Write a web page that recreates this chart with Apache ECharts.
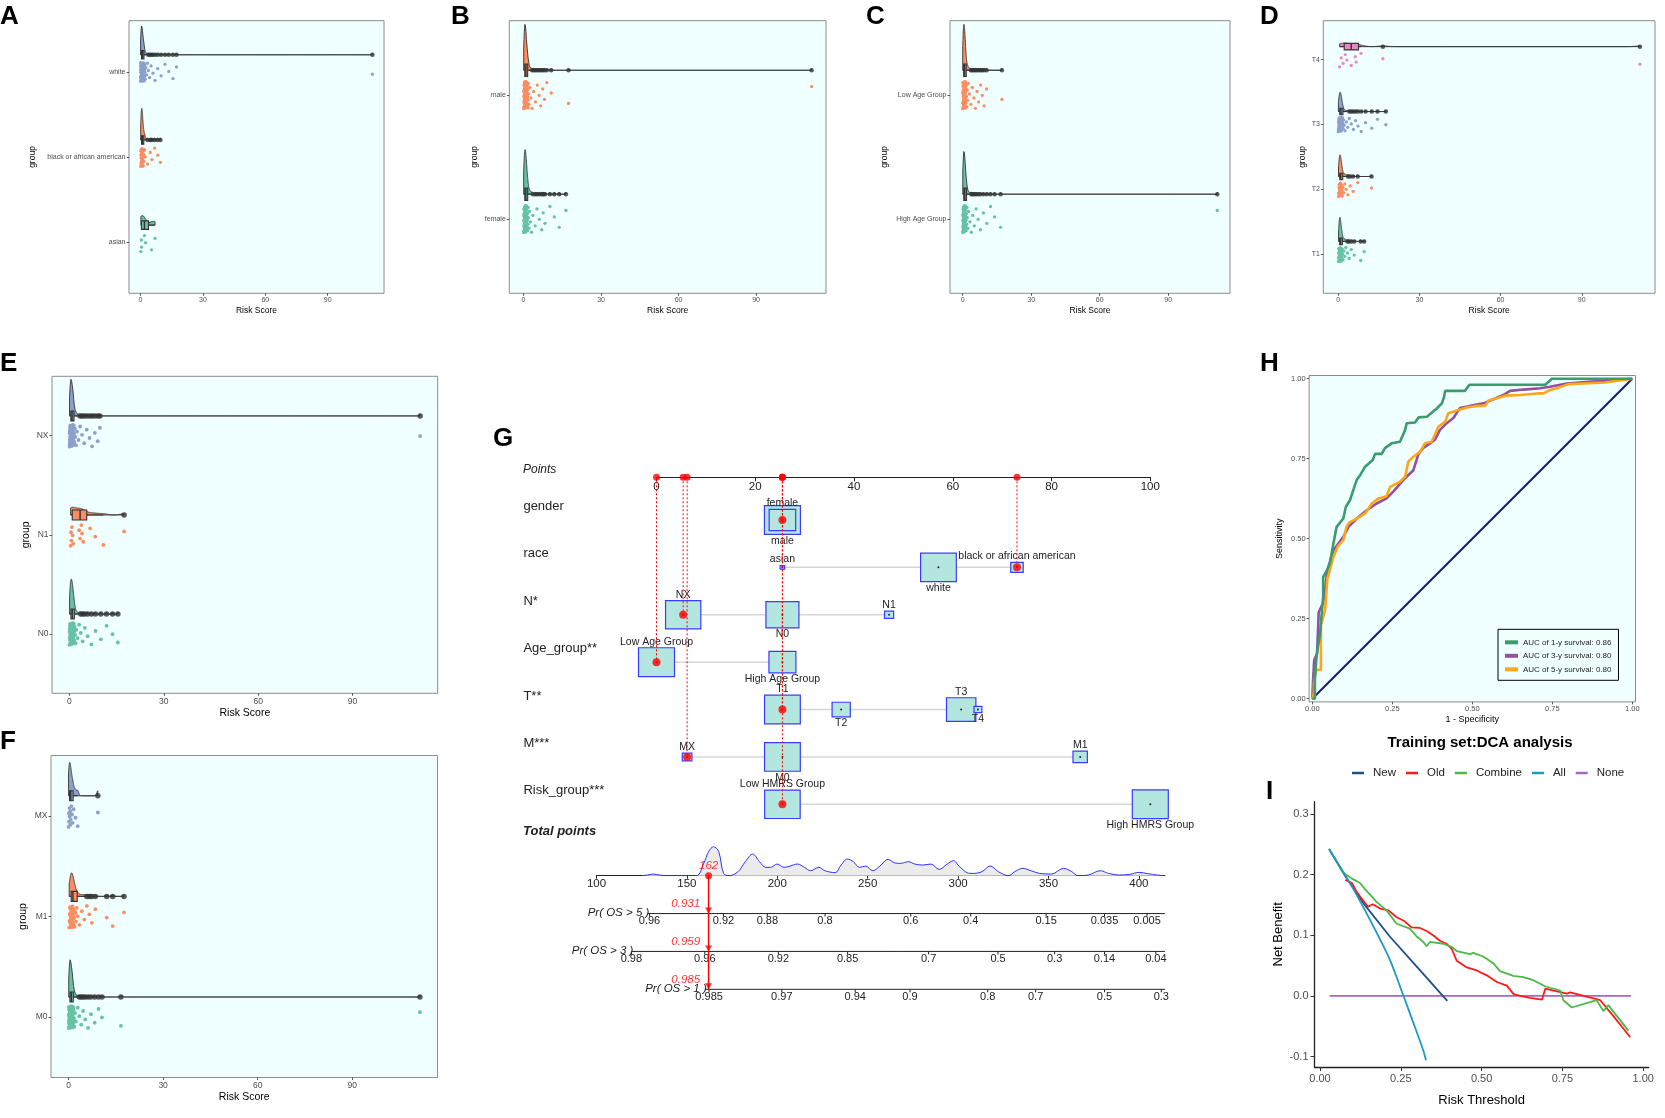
<!DOCTYPE html>
<html><head><meta charset="utf-8">
<script src="https://cdn.jsdelivr.net/npm/echarts@6/dist/echarts.min.js"></script>
<style>html,body{margin:0;padding:0;background:#fff}#c{width:1665px;height:1118px}</style>
</head><body><div id="c"></div>
<script>
// ---------------- DATA ----------------
const riskTicks = [0, 30, 60, 90];
// A: race
const raceLevels = ['asian', 'black or african american', 'white'];
const raceAsian = [0.2, 0.4, 0.5, 1.9, 2.4, 5.3, 7.0];
const raceBlack = [0.1, 0.2, 0.3, 0.4, 0.4, 0.5, 0.6, 0.7, 0.7, 0.8, 0.9, 1.0, 1.1, 1.3, 1.4, 1.6, 1.9, 2.3, 3.4, 4.7, 5.5, 6.8, 8.3, 9.6, 0.15, 0.35, 0.55, 0.62, 0.85, 0.95, 1.2, 0.27, 0.48, 0.76, 1.05, 1.5, 0.66, 2.0];
const raceWhite = [0.05,0.1,0.12,0.2,0.22,0.3,0.31,0.35,0.4,0.42,0.5,0.52,0.55,0.6,0.63,0.7,0.71,0.75,0.8,0.84,0.9,0.93,1.0,1.04,1.1,1.15,1.2,1.27,1.3,1.38,1.45,1.5,1.6,1.66,1.75,1.8,1.9,2.0,2.15,2.3,2.6,2.9,3.3,3.8,4.4,5.1,6.0,7.0,8.3,9.9,11.8,13.6,15.6,17.3,111.5,
  0.08,0.18,0.26,0.33,0.37,0.44,0.47,0.58,0.66,0.68,0.77,0.82,0.87,0.96,1.02,1.08,1.13,1.24,1.33,1.42,1.55,1.63,1.72,0.15,0.28,0.53,0.61,0.73,0.91,1.18,0.46,0.39,0.24,0.57,0.88];
// B: gender
const genderLevels = ['female', 'male'];
const genderFemale = [0.05,0.1,0.15,0.2,0.25,0.3,0.32,0.4,0.45,0.5,0.52,0.6,0.65,0.7,0.72,0.8,0.85,0.9,0.95,1.0,1.05,1.1,1.2,1.25,1.3,1.4,1.5,1.55,1.7,1.8,1.9,2.1,2.3,2.6,3.1,3.6,4.5,5.2,6.1,7.0,7.6,8.3,10.2,11.9,13.8,16.4,
  0.07,0.12,0.22,0.28,0.36,0.42,0.48,0.56,0.63,0.68,0.77,0.83,0.92,0.98,1.08,1.15,1.33,1.45,1.62,0.34,0.58,0.74,0.88,1.02,1.22,0.18,0.46,0.67];
const genderMale = [0.05,0.08,0.15,0.18,0.25,0.3,0.35,0.38,0.42,0.5,0.55,0.58,0.62,0.7,0.75,0.78,0.85,0.9,0.95,1.0,1.08,1.12,1.2,1.3,1.35,1.45,1.5,1.6,1.7,1.85,1.95,2.1,2.4,2.8,3.3,3.9,4.6,5.3,6.0,6.6,7.4,8.1,9.0,10.7,17.4,111.5,
  0.1,0.12,0.21,0.27,0.33,0.4,0.45,0.47,0.52,0.6,0.66,0.68,0.73,0.81,0.88,0.93,0.97,1.04,1.16,1.24,1.4,1.55,1.78,0.23,0.44,0.64,0.71,0.86,1.02,1.28,0.37,0.57];
// C: age group
const ageLevels = ['High Age Group', 'Low Age Group'];
const ageHigh = [0.06,0.1,0.16,0.2,0.27,0.3,0.36,0.4,0.44,0.5,0.56,0.6,0.64,0.7,0.76,0.8,0.86,0.9,0.97,1.0,1.06,1.15,1.2,1.3,1.38,1.45,1.55,1.65,1.75,1.9,2.05,2.3,2.6,3.2,3.8,4.4,5.1,5.9,6.8,7.8,9.1,10.6,12.2,14.0,16.6,111.5,
  0.08,0.13,0.23,0.33,0.38,0.47,0.53,0.58,0.67,0.73,0.83,0.88,0.94,1.03,1.11,1.25,1.34,1.5,1.7,0.25,0.42,0.62,0.78,0.99,1.18,0.55,0.35];
const ageLow = [0.04,0.1,0.14,0.22,0.26,0.33,0.38,0.43,0.48,0.53,0.6,0.66,0.71,0.77,0.82,0.88,0.94,1.0,1.07,1.13,1.22,1.28,1.36,1.46,1.58,1.7,1.84,2.0,2.2,2.5,3.0,3.6,4.2,4.9,5.6,6.3,7.0,7.9,8.6,9.4,10.5,17.2,
  0.07,0.12,0.18,0.24,0.3,0.36,0.41,0.45,0.51,0.57,0.63,0.69,0.74,0.8,0.85,0.91,0.97,1.04,1.1,1.19,1.32,1.52,0.28,0.47,0.66,0.84,1.16,0.55];
// D: T stage
const tLevels = ['T1', 'T2', 'T3', 'T4'];
const stageT1 = [0.1,0.2,0.3,0.35,0.4,0.5,0.55,0.6,0.7,0.75,0.8,0.9,1.0,1.1,1.2,1.3,1.45,1.6,1.8,2.1,2.4,2.8,3.4,4.0,4.8,5.9,8.3,9.6,
  0.15,0.25,0.38,0.45,0.52,0.63,0.67,0.72,0.84,0.95,1.05,1.15,1.38,0.58,0.78];
const stageT2 = [0.1,0.25,0.3,0.4,0.5,0.6,0.65,0.75,0.85,0.95,1.05,1.2,1.35,1.5,1.7,2.0,2.4,2.9,3.6,4.4,5.5,7.2,12.3,
  0.18,0.35,0.45,0.55,0.7,0.8,0.9,1.0,1.12,1.28,0.62];
const stageT3 = [0.05,0.12,0.2,0.26,0.3,0.38,0.45,0.5,0.56,0.62,0.7,0.76,0.82,0.9,0.96,1.03,1.1,1.18,1.26,1.35,1.44,1.55,1.68,1.8,1.95,2.15,2.5,3.0,3.5,4.1,4.8,5.6,6.4,7.3,8.5,10.1,12.4,14.5,17.6,
  0.08,0.16,0.23,0.34,0.41,0.48,0.53,0.59,0.66,0.73,0.79,0.86,0.93,1.0,1.07,1.14,1.22,1.31,1.49,1.62,0.44,0.69,0.88,1.12];
const stageT4 = [0.5,1.1,1.8,2.6,3.2,4.8,6.3,6.6,8.4,16.5,111.5];
// E: N stage
const nLevels = ['N0', 'N1', 'NX'];
const stageN0 = [0.05,0.1,0.17,0.22,0.28,0.33,0.4,0.45,0.5,0.55,0.62,0.68,0.73,0.8,0.86,0.92,0.98,1.05,1.12,1.2,1.28,1.36,1.45,1.55,1.66,1.8,1.95,2.2,2.6,3.1,3.6,4.2,4.9,5.8,7.0,8.3,10.0,11.8,13.7,15.4,
  0.08,0.13,0.2,0.25,0.31,0.37,0.43,0.48,0.53,0.59,0.65,0.71,0.77,0.83,0.89,0.95,1.01,1.09,1.16,1.24,1.4,1.6,0.35,0.57,0.79,1.03,1.32,0.66];
const stageN1 = [0.4,0.5,0.6,0.8,1.0,1.2,3.1,3.4,3.8,4.0,4.4,6.6,8.2,10.8,17.4];
const stageNX = [0.04,0.1,0.15,0.21,0.27,0.32,0.37,0.43,0.48,0.54,0.6,0.66,0.72,0.78,0.85,0.91,0.97,1.04,1.11,1.19,1.27,1.37,1.48,1.6,1.75,1.9,2.1,2.4,2.9,3.4,4.0,4.7,5.5,6.4,7.2,8.1,9.0,9.7,111.5,
  0.07,0.12,0.18,0.24,0.3,0.35,0.4,0.46,0.51,0.57,0.63,0.69,0.75,0.81,0.88,0.94,1.0,1.07,1.15,1.23,1.32,1.43,0.26,0.53,0.77,1.09,0.45,0.65];
// F: M stage
const mLevels = ['M0', 'M1', 'MX'];
const stageM0 = [0.05,0.1,0.16,0.21,0.26,0.31,0.36,0.42,0.47,0.52,0.58,0.63,0.69,0.75,0.81,0.87,0.93,0.99,1.06,1.13,1.21,1.29,1.38,1.48,1.6,1.73,1.88,2.05,2.3,2.9,3.4,4.0,4.6,5.3,6.2,7.1,8.3,9.5,10.6,16.6,111.5,
  0.08,0.13,0.19,0.24,0.29,0.34,0.39,0.44,0.5,0.55,0.61,0.66,0.72,0.78,0.84,0.9,0.96,1.02,1.1,1.17,1.25,1.34,1.52,0.27,0.48,0.7,0.92,1.19,0.57,0.38];
const stageM1 = [0.2,0.35,0.5,0.6,0.75,0.85,0.95,1.05,1.15,1.3,1.45,1.6,1.75,1.9,2.1,2.35,2.6,2.9,3.4,4.2,5.0,5.8,6.6,7.4,8.5,12.1,14.0,17.6,
  0.28,0.42,0.55,0.68,0.8,0.9,1.0,1.1,1.22,1.38,1.52,1.68,2.0,0.64,1.25];
const stageMX = [0.0,0.1,0.15,0.3,0.35,0.5,0.55,0.7,0.9,1.1,1.3,1.6,2.2,2.9,9.3];

// G: nomogram
const nomoVars = ['gender', 'race', 'N*', 'Age_group**', 'T**', 'M***', 'Risk_group***'];
const nomoLevels = [['female','male'], ['asian','white','black or african american'], ['NX','N0','N1'], ['Low Age Group','High Age Group'], ['T1','T2','T3','T4'], ['MX','M0','M1'], ['Low HMRS Group','High HMRS Group']];
const nomoPoints = [[25.5,25.5], [25.5,57.1,73.0], [5.4,25.5,47.1], [0,25.5], [25.5,37.4,61.7,65.1], [6.2,25.5,85.8], [25.5,100]];
const nomoCounts = [[136,250], [4,246,30], [240,210,16], [250,140], [247,64,167,12], [18,247,40], [243,250]];
const pointsTicks = [0, 20, 40, 60, 80, 100];
const patientLevels = ['female', 'black or african american', 'NX', 'Low Age Group', 'T1', 'MX', 'Low HMRS Group'];
const patientTotal = 162;
const totalTicks = [100, 150, 200, 250, 300, 350, 400];
const totalRange = [100, 414.4];
const totalDensity = [[125,0],[128.1,2],[131.5,5],[134.9,2],[139.4,0],[155.2,0],[159.3,37],[162,72],[164.7,87],[167.6,72],[170.3,7],[173.3,0],[178.3,12],[182.3,42],[186.4,65],[190.2,42],[193.6,25],[196.3,25],[199.9,35],[203.8,25],[207.1,29],[211.2,35],[215,25],[218.4,15],[223,25],[226.3,15],[232,9],[235.3,32],[238.7,50],[242.1,42],[245.5,25],[248.9,29],[252.8,15],[256.8,29],[261.3,49],[264.7,39],[268.1,37],[272.6,42],[276,35],[280.5,32],[285,35],[289.5,19],[294,35],[297.5,45],[300.8,27],[306.5,7],[308.7,7],[313.2,12],[317.8,29],[322.3,12],[327.9,0],[331.3,12],[335.8,22],[340.3,15],[344.9,7],[351.6,5],[358.4,22],[362.9,12],[366.3,0],[372,2],[378.7,15],[383.2,7],[389.5,2],[395,4],[400,10],[405,6],[410,2],[414,0]];
const prNames = ['Pr( OS > 5 )', 'Pr( OS > 3 )', 'Pr( OS > 1 )'];
const prStarts = [128.1, 119.3, 159.9];
const prEnd = 414.4;
const prTickLabels = [['0.96','0.92','0.88','0.8','0.6','0.4','0.15','0.035','0.005'], ['0.98','0.96','0.92','0.85','0.7','0.5','0.3','0.14','0.04'], ['0.985','0.97','0.94','0.9','0.8','0.7','0.5','0.3']];
const prTickPoints = [[129.3,170.2,194.5,226.4,273.8,307,348.7,381,404.5], [119.3,159.9,200.6,238.9,283.7,322.1,353.4,381,409.4], [162.3,202.5,243.1,273.4,316.4,342.9,381,412.4]];
const patientProbs = ['0.931', '0.959', '0.985'];

// H: ROC
const rocTicks = [0, 0.25, 0.5, 0.75, 1];
const rocNames = ['AUC of 1-y survival: 0.86', 'AUC of 3-y survival: 0.80', 'AUC of 5-y survival: 0.80'];
const roc1y = [[0,0],[0.008,0],[0.008,0.06],[0.014,0.06],[0.014,0.14],[0.02,0.14],[0.024,0.2],[0.028,0.25],[0.034,0.32],[0.034,0.38],[0.045,0.4],[0.055,0.423],[0.066,0.485],[0.076,0.537],[0.097,0.563],[0.105,0.6],[0.118,0.621],[0.128,0.652],[0.139,0.684],[0.151,0.701],[0.165,0.725],[0.189,0.746],[0.196,0.765],[0.217,0.765],[0.227,0.783],[0.248,0.798],[0.274,0.803],[0.29,0.84],[0.295,0.861],[0.321,0.863],[0.332,0.879],[0.358,0.881],[0.389,0.907],[0.405,0.923],[0.412,0.944],[0.415,0.962],[0.477,0.962],[0.491,0.981],[0.728,0.981],[0.749,1.0],[1,1]];
const roc3y = [[0,0],[0.002,0.05],[0.006,0.121],[0.015,0.14],[0.02,0.27],[0.034,0.3],[0.047,0.4],[0.066,0.464],[0.097,0.506],[0.113,0.537],[0.139,0.563],[0.17,0.589],[0.201,0.61],[0.232,0.626],[0.253,0.647],[0.284,0.683],[0.316,0.714],[0.331,0.763],[0.347,0.784],[0.368,0.798],[0.383,0.809],[0.399,0.84],[0.42,0.861],[0.441,0.877],[0.461,0.908],[0.493,0.915],[0.535,0.923],[0.566,0.936],[0.597,0.949],[0.618,0.962],[0.66,0.966],[0.712,0.97],[0.743,0.975],[0.795,0.985],[0.863,0.99],[1,1]];
const roc5y = [[0,0],[0.005,0.02],[0.005,0.048],[0.012,0.09],[0.027,0.09],[0.027,0.23],[0.04,0.277],[0.047,0.376],[0.055,0.402],[0.066,0.443],[0.079,0.475],[0.097,0.496],[0.107,0.537],[0.115,0.55],[0.139,0.563],[0.165,0.579],[0.186,0.61],[0.207,0.626],[0.232,0.633],[0.243,0.662],[0.274,0.678],[0.29,0.694],[0.3,0.741],[0.316,0.756],[0.337,0.772],[0.352,0.798],[0.373,0.803],[0.394,0.85],[0.415,0.865],[0.425,0.892],[0.441,0.897],[0.457,0.902],[0.483,0.91],[0.514,0.915],[0.54,0.915],[0.55,0.931],[0.576,0.939],[0.603,0.947],[0.65,0.949],[0.702,0.954],[0.723,0.954],[0.743,0.965],[0.764,0.97],[0.8,0.983],[0.847,0.985],[0.915,0.988],[1,1]];
const rocDiagonal = [[0,0],[1,1]];

// I: DCA
const dcaXTicks = [0, 0.25, 0.5, 0.75, 1];
const dcaYTicks = [-0.1, 0, 0.1, 0.2, 0.3];
const dcaNames = ['New', 'Old', 'Combine', 'All', 'None'];
const dcaNew = [[0.028,0.242],[0.08,0.196],[0.134,0.153],[0.216,0.098],[0.298,0.049],[0.38,0.0],[0.394,-0.008]];
const dcaOld = [[0.078,0.191],[0.099,0.186],[0.113,0.172],[0.128,0.161],[0.149,0.147],[0.163,0.151],[0.186,0.144],[0.212,0.141],[0.236,0.13],[0.262,0.123],[0.283,0.113],[0.309,0.112],[0.33,0.107],[0.35,0.1],[0.371,0.091],[0.392,0.086],[0.408,0.077],[0.423,0.058],[0.454,0.047],[0.485,0.042],[0.516,0.034],[0.547,0.023],[0.578,0.017],[0.599,0.003],[0.619,0.0],[0.65,-0.003],[0.687,-0.006],[0.697,0.012],[0.723,0.009],[0.764,0.004],[0.774,0.006],[0.816,0.0],[0.867,-0.007],[0.909,-0.034],[0.96,-0.068]];
const dcaCombine = [[0.06,0.212],[0.072,0.203],[0.103,0.192],[0.124,0.186],[0.139,0.176],[0.165,0.161],[0.175,0.155],[0.206,0.141],[0.237,0.119],[0.278,0.111],[0.299,0.098],[0.32,0.089],[0.33,0.082],[0.34,0.089],[0.381,0.086],[0.407,0.081],[0.423,0.074],[0.464,0.069],[0.474,0.071],[0.505,0.065],[0.536,0.054],[0.557,0.041],[0.598,0.033],[0.629,0.031],[0.66,0.026],[0.696,0.016],[0.743,0.009],[0.753,-0.007],[0.779,-0.019],[0.856,-0.007],[0.877,-0.025],[0.892,-0.015],[0.954,-0.057]];
const dcaAll = [[0.028,0.242],[0.072,0.204],[0.113,0.167],[0.164,0.116],[0.216,0.06],[0.257,0.002],[0.288,-0.043],[0.319,-0.089],[0.328,-0.106]];
const dcaNone = [[0.03,0],[0.962,0]];

// ---------------- BUILD ----------------
const FONT = '"Liberation Sans", Arial, Helvetica, sans-serif';
const SET2 = ['#66C2A5', '#FC8D62', '#8DA0CB', '#E78AC3'];
const grids = [], xAxes = [], yAxes = [], series = [], titles = [], legends = [];

function quant(s, p) { const h = (s.length - 1) * p, lo = Math.floor(h), hi = Math.ceil(h); return s[lo] + (s[hi] - s[lo]) * (h - lo); }
function kde(vals, adjust) {
  const s = [...vals].sort((a, b) => a - b), n = s.length;
  const mean = s.reduce((a, b) => a + b, 0) / n;
  const sd = Math.sqrt(s.reduce((a, b) => a + (b - mean) * (b - mean), 0) / (n - 1));
  const iqr = quant(s, 0.75) - quant(s, 0.25);
  let lo = Math.min(sd, iqr / 1.34); if (!(lo > 0)) lo = sd || 1;
  const bw = adjust * 0.9 * lo * Math.pow(n, -0.2);
  const N = 512, a = s[0], b = s[n - 1], out = [];
  for (let k = 0; k < N; k++) {
    const x = a + (b - a) * k / (N - 1); let d = 0;
    for (const v of s) { const z = (x - v) / bw; d += Math.exp(-0.5 * z * z); }
    out.push([x, d / (n * bw * Math.sqrt(2 * Math.PI))]);
  }
  return out;
}
function boxStats(vals) {
  const s = [...vals].sort((a, b) => a - b);
  const q1 = quant(s, 0.25), med = quant(s, 0.5), q3 = quant(s, 0.75), iqr = q3 - q1;
  const inl = s.filter(v => v >= q1 - 1.5 * iqr && v <= q3 + 1.5 * iqr);
  return { q1, med, q3, lw: inl[0], uw: inl[inl.length - 1], out: s.filter(v => v < q1 - 1.5 * iqr || v > q3 + 1.5 * iqr) };
}

function rainPanel(cfg) {
  const gi = grids.length, n = cfg.cats.length;
  const all = [].concat(...cfg.groups);
  const dmin = Math.min(...all), dmax = Math.max(...all), pad = (dmax - dmin) * 0.05;
  const catVals = cfg.cats.map((_, i) => i + 1);
  grids.push({ left: cfg.l, top: cfg.t, width: cfg.r - cfg.l, height: cfg.b - cfg.t, show: true, backgroundColor: '#F0FFFF', borderColor: '#8c8c8c', borderWidth: 1 });
  xAxes.push({ gridIndex: gi, type: 'value', min: dmin - pad, max: dmax + pad, splitLine: { show: false },
    axisLine: { show: false, onZero: false },
    axisTick: { show: true, customValues: riskTicks, length: 2.5, lineStyle: { color: '#333', width: 0.8 } },
    axisLabel: { customValues: riskTicks, fontSize: cfg.tf, color: '#4d4d4d', margin: 3.5 },
    name: 'Risk Score', nameLocation: 'middle', nameGap: cfg.xg, nameTextStyle: { fontSize: cfg.nf, color: '#000' } });
  yAxes.push({ gridIndex: gi, type: 'value', min: 0.4, max: n + 0.6, splitLine: { show: false },
    axisLine: { show: false, onZero: false },
    axisTick: { show: true, customValues: catVals, length: 2.5, lineStyle: { color: '#333', width: 0.8 } },
    axisLabel: { customValues: catVals, formatter: v => cfg.cats[Math.round(v) - 1], fontSize: cfg.tf, color: '#4d4d4d', margin: 3.5 },
    name: 'group', nameLocation: 'middle', nameGap: cfg.yg, nameTextStyle: { fontSize: cfg.nf, color: '#000' } });
  const dens = cfg.groups.map(g => kde(g, 0.75));
  const maxD = Math.max(...dens.map(d => Math.max(...d.map(p => p[1]))));
  const stats = cfg.groups.map(boxStats);
  series.push({ type: 'custom', xAxisIndex: gi, yAxisIndex: gi, z: 2, silent: true, clip: false,
    data: cfg.groups.map((_, i) => [0, i + 1]),
    renderItem: (p, api) => {
      const i = p.dataIndex, v = dens[i], base = i + 1.2;
      const pts = v.map(([x, d]) => api.coord([x, base + d / maxD * 0.37]));
      pts.push(api.coord([v[v.length - 1][0], base])); pts.push(api.coord([v[0][0], base]));
      return { type: 'polygon', shape: { points: pts }, style: { fill: SET2[i], stroke: '#333', lineWidth: 0.9 } };
    } });
  cfg.groups.forEach((g, i) => {
    series.push({ type: 'scatter', xAxisIndex: gi, yAxisIndex: gi, z: 3, silent: true, symbolSize: cfg.ps,
      itemStyle: { color: SET2[i], opacity: 1 },
      data: g.map((v, k) => [v, i + 1 + (((k * 0.6180339887) % 1) - 0.5) * 0.22]) });
  });
  series.push({ type: 'custom', xAxisIndex: gi, yAxisIndex: gi, z: 4, silent: true, clip: false,
    data: cfg.groups.map((_, i) => [0, i + 1]),
    renderItem: (p, api) => {
      const i = p.dataIndex, st = stats[i], y = i + 1.2, hw = 0.05;
      const [x1, yT] = api.coord([st.q1, y + hw]), [x3, yB] = api.coord([st.q3, y - hw]);
      const [xm] = api.coord([st.med, y]), [xl, yc] = api.coord([st.lw, y]), [xu] = api.coord([st.uw, y]);
      return { type: 'group', children: [
        { type: 'line', shape: { x1: xl, y1: yc, x2: x1, y2: yc }, style: { stroke: '#333', lineWidth: 1 } },
        { type: 'line', shape: { x1: x3, y1: yc, x2: xu, y2: yc }, style: { stroke: '#333', lineWidth: 1 } },
        { type: 'rect', shape: { x: x1, y: yT, width: Math.max(x3 - x1, 1), height: yB - yT }, style: { fill: SET2[i], stroke: '#333', lineWidth: 1.1 } },
        { type: 'line', shape: { x1: xm, y1: yT, x2: xm, y2: yB }, style: { stroke: '#333', lineWidth: 1.4 } }] };
    } });
  const outs = [];
  stats.forEach((st, i) => st.out.forEach(v => outs.push([v, i + 1.2])));
  series.push({ type: 'scatter', xAxisIndex: gi, yAxisIndex: gi, z: 5, silent: true, symbolSize: cfg.os, itemStyle: { color: '#333' }, data: outs });
}

const small = { tf: 7, nf: 8.5, xg: 12.5, ps: 3.3, os: 4.5 };
const big = { tf: 8.5, nf: 10.5, xg: 14, ps: 3.8, os: 5.5 };
rainPanel(Object.assign({ l: 129, t: 20.7, r: 384, b: 293.3, cats: raceLevels, groups: [raceAsian, raceBlack, raceWhite], yg: 91.7 }, small));
rainPanel(Object.assign({ l: 509.3, t: 20.7, r: 826, b: 293.3, cats: genderLevels, groups: [genderFemale, genderMale], yg: 30 }, small));
rainPanel(Object.assign({ l: 950, t: 20.7, r: 1230, b: 293.3, cats: ageLevels, groups: [ageHigh, ageLow], yg: 60.7 }, small));
rainPanel(Object.assign({ l: 1323.3, t: 20.7, r: 1655, b: 293.3, cats: tLevels, groups: [stageT1, stageT2, stageT3, stageT4], yg: 15.7 }, small));
rainPanel(Object.assign({ l: 52, t: 376.3, r: 437.7, b: 693.3, cats: nLevels, groups: [stageN0, stageN1, stageNX], yg: 20 }, big));
rainPanel(Object.assign({ l: 51, t: 755.5, r: 437.5, b: 1077.5, cats: mLevels, groups: [stageM0, stageM1, stageMX], yg: 22.5 }, big));

// ---------- G: nomogram upper part ----------
const AX_ROW = -0.9008;
const gPts = grids.length;
grids.push({ left: 656.5, top: 477.3, width: 493.8, height: 327, show: false });
xAxes.push({ gridIndex: gPts, type: 'value', min: 0, max: 100, position: 'top', splitLine: { show: false },
  axisLine: { show: true, onZero: false, lineStyle: { color: '#222', width: 1 } },
  axisTick: { show: true, inside: true, length: 4, customValues: pointsTicks, lineStyle: { color: '#222' } },
  axisLabel: { inside: true, margin: 4, fontSize: 11.5, color: '#222', customValues: pointsTicks } });
yAxes.push({ gridIndex: gPts, type: 'value', min: AX_ROW, max: 6, inverse: true, splitLine: { show: false },
  axisLine: { show: false, onZero: false }, axisTick: { show: false },
  axisLabel: { customValues: nomoVars.map((_, r) => r - 0.285), formatter: v => nomoVars[Math.round(v + 0.285)], align: 'left', margin: 133.1, fontSize: 13, color: '#222' } });
series.push({ type: 'custom', xAxisIndex: gPts, yAxisIndex: gPts, clip: false, silent: true, z: 2,
  data: nomoPoints.map((p, r) => [Math.min(...p), r, Math.max(...p)]),
  renderItem: (params, api) => {
    const a = api.coord([api.value(0), api.value(1)]), b = api.coord([api.value(2), api.value(1)]);
    return { type: 'line', shape: { x1: a[0], y1: a[1], x2: b[0], y2: b[1] }, style: { stroke: '#d6d6d6', lineWidth: 1.5 } };
  } });
const lvlItems = [];
nomoLevels.forEach((lv, r) => {
  const order = lv.map((_, j) => j).sort((a, b) => nomoPoints[r][a] - nomoPoints[r][b]);
  lv.forEach((name, j) => lvlItems.push({ value: [nomoPoints[r][j], r, nomoCounts[r][j], order.indexOf(j)], name }));
});
lvlItems.sort((a, b) => b.value[2] - a.value[2]);
series.push({ type: 'custom', xAxisIndex: gPts, yAxisIndex: gPts, clip: false, silent: true, z: 3,
  data: lvlItems,
  renderItem: (params, api) => {
    const c = api.coord([api.value(0), api.value(1)]), cnt = api.value(2), rk = api.value(3);
    const w = 2.277 * Math.sqrt(cnt), h = w * 0.8, above = rk % 2 === 0;
    return { type: 'group', children: [
      { type: 'rect', shape: { x: c[0] - w / 2, y: c[1] - h / 2, width: w, height: h }, style: { fill: '#b3e6de', stroke: '#3b3bff', lineWidth: 1.2 } },
      { type: 'circle', shape: { cx: c[0], cy: c[1], r: 1 }, style: { fill: '#222' } },
      { type: 'text', x: c[0], y: above ? c[1] - h / 2 - 0.5 : c[1] + h / 2 + 1, style: { text: lvlItems[params.dataIndex].name, fill: '#222', fontSize: 10.5, fontFamily: FONT, align: 'center', verticalAlign: above ? 'bottom' : 'top' } }] };
  } });
const patientPts = patientLevels.map((lv, r) => [nomoPoints[r][nomoLevels[r].indexOf(lv)], r]);
series.push({ type: 'custom', xAxisIndex: gPts, yAxisIndex: gPts, clip: false, silent: true, z: 4,
  data: patientPts,
  renderItem: (params, api) => {
    const a = api.coord([api.value(0), AX_ROW]), b = api.coord([api.value(0), api.value(1)]);
    return { type: 'line', shape: { x1: a[0], y1: a[1], x2: b[0], y2: b[1] }, style: { stroke: '#ff0000', lineWidth: 1, lineDash: [2, 2] } };
  } });
series.push({ type: 'scatter', xAxisIndex: gPts, yAxisIndex: gPts, clip: false, silent: true, z: 6, symbolSize: 8, itemStyle: { color: '#ff0000' }, data: patientPts });
series.push({ type: 'scatter', xAxisIndex: gPts, yAxisIndex: gPts, clip: false, silent: true, z: 6, symbolSize: 7, itemStyle: { color: '#ff0000' }, data: patientPts.map(p => [p[0], AX_ROW]) });

// ---------- G: total points ----------
const gTot = grids.length;
grids.push({ left: 596.5, top: 846.7, width: 568.4, height: 29, show: false });
xAxes.push({ gridIndex: gTot, type: 'value', min: totalRange[0], max: totalRange[1], splitLine: { show: false },
  axisLine: { show: true, onZero: false, lineStyle: { color: '#222', width: 1 } },
  axisTick: { show: true, length: 3, customValues: totalTicks, lineStyle: { color: '#222' } },
  axisLabel: { customValues: totalTicks, fontSize: 11.5, color: '#222', margin: 2 } });
yAxes.push({ gridIndex: gTot, type: 'value', min: 0, max: 87, show: false });
series.push({ type: 'line', xAxisIndex: gTot, yAxisIndex: gTot, smooth: 0.35, symbol: 'none', silent: true, z: 2,
  lineStyle: { color: '#3030ff', width: 1 }, areaStyle: { color: '#ebebeb', opacity: 1 }, data: totalDensity });

const gPr = grids.length;
grids.push({ left: 596.5, top: 875.7, width: 568.4, height: 113.6, show: false });
xAxes.push({ gridIndex: gPr, type: 'value', min: totalRange[0], max: totalRange[1], show: false });
yAxes.push({ gridIndex: gPr, type: 'value', min: 0, max: 3, inverse: true, show: false });
series.push({ type: 'custom', xAxisIndex: gPr, yAxisIndex: gPr, clip: false, silent: true, z: 2,
  data: prStarts.map((s, k) => [s, k + 1]),
  renderItem: (params, api) => {
    const k = params.dataIndex, row = k + 1;
    const a = api.coord([prStarts[k], row]), b = api.coord([prEnd, row]);
    const ch = [{ type: 'line', shape: { x1: a[0], y1: a[1], x2: b[0], y2: b[1] }, style: { stroke: '#222', lineWidth: 1 } },
      { type: 'text', x: a[0] + 2, y: a[1] - 1, style: { text: prNames[k], fontStyle: 'italic', fontSize: 11.5, fill: '#222', fontFamily: FONT, align: 'right', verticalAlign: 'middle' } }];
    prTickPoints[k].forEach((tp, j) => {
      const p = api.coord([tp, row]);
      ch.push({ type: 'line', shape: { x1: p[0], y1: p[1], x2: p[0], y2: p[1] + 3 }, style: { stroke: '#222', lineWidth: 1 } });
      ch.push({ type: 'text', x: p[0], y: p[1] + 2, style: { text: prTickLabels[k][j], fontSize: 11, fill: '#222', fontFamily: FONT, align: 'center', verticalAlign: 'top' } });
    });
    return { type: 'group', children: ch };
  } });
series.push({ type: 'line', xAxisIndex: gPr, yAxisIndex: gPr, symbol: 'none', silent: true, z: 5, clip: false,
  lineStyle: { color: '#ff0000', width: 1.5 }, data: [[patientTotal, 0], [patientTotal, 3]] });
series.push({ type: 'scatter', xAxisIndex: gPr, yAxisIndex: gPr, silent: true, z: 6, clip: false, symbol: 'triangle', symbolRotate: 180, symbolSize: [7, 6], symbolOffset: [0, -3],
  itemStyle: { color: '#ff0000' },
  label: { show: true, position: 'left', distance: 5, offset: [0, -7], formatter: p => patientProbs[p.dataIndex], color: '#ff0000', fontStyle: 'italic', fontSize: 11.5 },
  data: [[patientTotal, 1], [patientTotal, 2], [patientTotal, 3]] });
series.push({ type: 'scatter', xAxisIndex: gPr, yAxisIndex: gPr, silent: true, z: 6, clip: false, symbolSize: 7,
  itemStyle: { color: '#ff0000' },
  label: { show: true, position: 'top', distance: 0, formatter: String(patientTotal), color: '#ff0000', fontStyle: 'italic', fontSize: 11.5 },
  data: [[patientTotal, 0]] });

// ---------- H: ROC ----------
const gH = grids.length;
grids.push({ left: 1309.1, top: 375.5, width: 326.4, height: 326.4, show: true, backgroundColor: '#F0FFFF', borderColor: '#8c8c8c', borderWidth: 1 });
const rocAxis = (name, gap) => ({ gridIndex: gH, type: 'value', min: -0.01, max: 1.01, splitLine: { show: false },
  axisLine: { show: false, onZero: false },
  axisTick: { show: true, customValues: rocTicks, length: 2.5, lineStyle: { color: '#333', width: 0.8 } },
  axisLabel: { customValues: rocTicks, formatter: v => v.toFixed(2), fontSize: 7.5, color: '#4d4d4d', margin: 3.5 },
  name, nameLocation: 'middle', nameGap: gap, nameTextStyle: { fontSize: 9, color: '#000' } });
xAxes.push(rocAxis('1 - Specificity', 13.5));
yAxes.push(rocAxis('Sensitivity', 25));
series.push({ type: 'line', xAxisIndex: gH, yAxisIndex: gH, symbol: 'none', silent: true, z: 2, lineStyle: { color: '#1c1c6e', width: 2 }, data: rocDiagonal });
series.push({ type: 'line', name: rocNames[1], xAxisIndex: gH, yAxisIndex: gH, symbol: 'none', silent: true, z: 3, color: '#944fa0', lineStyle: { color: '#944fa0', width: 2.6 }, data: roc3y });
series.push({ type: 'line', name: rocNames[2], xAxisIndex: gH, yAxisIndex: gH, symbol: 'none', silent: true, z: 4, color: '#ffa516', lineStyle: { color: '#ffa516', width: 2.6 }, data: roc5y });
series.push({ type: 'line', name: rocNames[0], xAxisIndex: gH, yAxisIndex: gH, symbol: 'none', silent: true, z: 5, color: '#3a9b6c', lineStyle: { color: '#3a9b6c', width: 2.6 }, data: roc1y });
legends.push({ data: rocNames, left: 1498, top: 629.3, orient: 'vertical', borderColor: '#000', borderWidth: 1, padding: [9, 7, 7, 7], itemGap: 5.5, itemWidth: 13, itemHeight: 4, icon: 'rect', selectedMode: false, textStyle: { fontSize: 8, color: '#222' } });

// ---------- I: DCA ----------
const gI = grids.length;
grids.push({ left: 1314.5, top: 801.7, width: 334.2, height: 265.3, show: false });
xAxes.push({ gridIndex: gI, type: 'value', min: -0.017, max: 1.017, splitLine: { show: false },
  axisLine: { show: true, onZero: false, lineStyle: { color: '#222', width: 1.3 } },
  axisTick: { show: true, customValues: dcaXTicks, length: 4, lineStyle: { color: '#333' } },
  axisLabel: { customValues: dcaXTicks, formatter: v => v.toFixed(2), fontSize: 11, color: '#4d4d4d', margin: 6 },
  name: 'Risk Threshold', nameLocation: 'middle', nameGap: 27, nameTextStyle: { fontSize: 13, color: '#000' } });
yAxes.push({ gridIndex: gI, type: 'value', min: -0.117, max: 0.32, splitLine: { show: false },
  axisLine: { show: true, onZero: false, lineStyle: { color: '#222', width: 1.3 } },
  axisTick: { show: true, customValues: dcaYTicks, length: 4, lineStyle: { color: '#333' } },
  axisLabel: { customValues: dcaYTicks, formatter: v => v.toFixed(1), fontSize: 11, color: '#4d4d4d', margin: 6 },
  name: 'Net Benefit', nameLocation: 'middle', nameGap: 30, nameTextStyle: { fontSize: 13, color: '#000' } });
const dcaColors = ['#1f4e8c', '#ff1a1a', '#4db848', '#1a9cc0', '#a569bd'];
[dcaNew, dcaOld, dcaCombine, dcaAll, dcaNone].forEach((d, k) => {
  series.push({ type: 'line', name: dcaNames[k], xAxisIndex: gI, yAxisIndex: gI, symbol: 'none', silent: true, z: k === 4 ? 2 : 3,
    smooth: k === 3 ? 0.3 : false, color: dcaColors[k], lineStyle: { color: dcaColors[k], width: 1.8 }, data: d });
});
legends.push({ data: dcaNames, left: 1352, top: 767, orient: 'horizontal', padding: 0, itemGap: 10, itemWidth: 12, itemHeight: 2.5, icon: 'rect', selectedMode: false, textStyle: { fontSize: 11.5, color: '#222', padding: [0, 0, 0, 4] } });

// ---------- text labels ----------
const letter = (t, l, tp) => titles.push({ text: t, left: l, top: tp, padding: 0, textStyle: { fontSize: 26, fontWeight: 'bold', color: '#000', fontFamily: FONT } });
letter('A', 0, 4); letter('B', 451, 4); letter('C', 866, 4); letter('D', 1260, 4);
letter('E', 0, 351); letter('F', 0, 729); letter('G', 493, 426); letter('H', 1260, 351); letter('I', 1266, 779);
titles.push({ text: 'Points', left: 523, top: 464, padding: 0, textStyle: { fontSize: 12, fontStyle: 'italic', fontWeight: 'normal', color: '#222', fontFamily: FONT } });
titles.push({ text: 'Total points', left: 523, top: 825, padding: 0, textStyle: { fontSize: 13, fontStyle: 'italic', fontWeight: 'bold', color: '#222', fontFamily: FONT } });
titles.push({ text: 'Training set:DCA analysis', left: 1480, top: 735, textAlign: 'center', padding: 0, textStyle: { fontSize: 15, fontWeight: 'bold', color: '#000', fontFamily: FONT } });

const chart = echarts.init(document.getElementById('c'), null, { renderer: 'canvas' });
chart.setOption({ animation: false, backgroundColor: '#fff', textStyle: { fontFamily: FONT },
  title: titles, legend: legends, grid: grids, xAxis: xAxes, yAxis: yAxes, series: series });
</script></body></html>
